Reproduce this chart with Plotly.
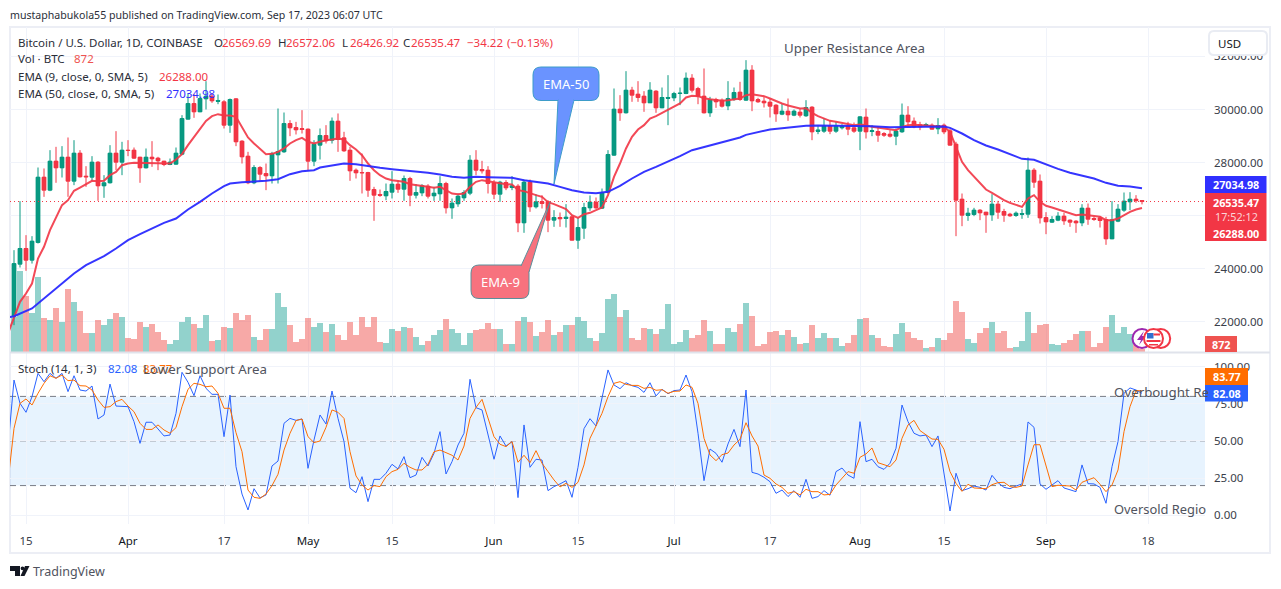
import pandas as pd
import plotly.graph_objects as go

W, H = 1281, 589
FONT = "Noto Sans"

# daily BTC/USD candles, first bar 2023-03-13
first_bar = "2023-03-13"
bar_open = [
    22220,24177,24767,24327,24993,27452,26963,28055,27804,28205,
    27302,28356,27490,27452,28017,27126,27240,28356,28017,28469,
    28469,28205,27804,28205,28168,28055,27929,27942,28318,29636,
    30226,29912,30402,30502,30314,30289,29410,30402,28808,28243,
    27240,27816,27590,27503,28293,28406,29473,29322,29272,29260,
    28055,28657,29021,28845,29561,28933,28469,27716,27628,27628,
    26988,26800,26750,26888,27189,27000,27402,26775,26862,27114,
    26750,26825,27214,26298,26449,26674,26850,28092,27741,27716,
    27240,26812,27252,27063,27114,25733,27264,26335,26524,26524,
    25834,25934,25896,25959,25080,25532,26298,26512,26285,26875,
    28281,30013,29875,30728,30577,30502,30251,30690,30063,30427,
    30439,30602,30602,31180,30790,30502,29875,30376,30351,30138,
    30389,30653,30351,31481,30364,30314,30276,30163,29824,29937,
    29787,29900,29762,30088,29184,29184,29373,29184,29310,29373,
    29310,29184,29711,29172,29172,29084,29071,28996,29159,29787,
    29561,29423,29385,29410,29272,29410,29197,28695,26624,26022,
    26047,26210,26135,26034,26436,26160,26059,26009,26059,26059,
    27716,27302,25934,25758,25834,25984,25834,25796,25733,26285,
    25896,25921,25859,25130,25796,26210,26524,26624,26569.69]
bar_high = [
    24704,26549,25269,25231,27816,27780,28469,28594,28620,28946,
    28845,28469,27866,28243,28055,27528,28657,29184,28783,28845,
    28569,28218,28532,28808,28218,28067,28155,28569,29787,30602,
    30577,30602,31067,30602,30565,30351,30414,30427,28845,28406,
    27904,27866,27967,28406,30038,29887,29598,29535,29975,29285,
    28845,29285,29410,29699,29850,29160,28594,27779,28343,27653,
    27088,26988,27214,27678,27340,27515,27465,27189,27189,27189,
    27088,27490,27277,26650,26837,26963,28281,28469,28067,27866,
    27340,27314,27340,27490,27189,27365,27365,26812,26775,26586,
    26210,26122,26436,26022,25934,26486,26762,26687,27025,28469,
    30791,30540,31443,30853,31067,30690,31029,30728,30828,31293,
    30665,30828,31393,31330,30853,31544,30477,30439,30414,31067,
    30828,31042,31857,31669,30439,30477,30414,30200,30226,30414,
    30000,30038,30351,30125,29373,29674,29598,29536,29448,29536,
    29510,29749,30038,29410,29373,29147,29222,29285,30226,30125,
    29699,29536,29498,29473,29674,29473,29272,28783,26837,26298,
    26298,26248,26147,26812,26561,26260,26110,26160,26248,28193,
    27791,27553,26135,25984,26135,26110,25859,25834,26436,26461,
    25959,25984,25959,26549,26436,26875,26888,26775,26572.06]
bar_low = [
    21880,24050,23926,24200,24955,26712,26925,27240,27440,26712,
    27151,27440,27088,27314,26561,26674,27214,27716,27528,28243,
    28143,27240,27780,27841,27716,27866,27904,27917,28281,29623,
    29686,29900,30000,30251,30200,29285,29122,28620,27967,27189,
    27189,27314,26963,27214,27214,28369,28996,29059,29096,27691,
    27866,28118,28720,28720,28406,28406,27314,27402,26838,26712,
    25808,26712,26586,26650,26862,26561,26360,26650,26737,26650,
    26561,26561,26084,25884,26336,26561,26775,27528,27590,26838,
    26624,26524,26963,26963,25382,25357,26147,26273,26273,25382,
    25582,25582,25558,25070,24754,25130,26185,26260,26260,26838,
    28256,29573,29850,30289,30289,29912,30251,29875,30050,29410,
    30314,30163,30577,30640,30200,29850,29724,30063,30075,29975,
    30326,30326,30326,29937,30251,30075,29699,29536,29787,29573,
    29749,29699,29724,28845,29071,29122,29071,29122,29247,29034,
    29122,28469,28908,28996,28783,28971,28946,28657,29122,29322,
    29297,29222,29347,29247,29071,29071,28645,25231,25607,25808,
    25984,25834,25357,25808,25884,25771,25959,25959,25884,25921,
    27051,25708,25306,25733,25796,25658,25582,25357,25607,25658,
    25808,25557,24905,25118,25758,26147,26210,26486,26426.92]
bar_close = [
    24200,24767,24327,25043,27452,26963,28055,27804,28205,27302,
    28356,27465,27465,28017,27126,27240,28356,28017,28469,28456,
    28168,27804,28205,28143,28067,27929,28017,28356,29661,30226,
    29912,30414,30502,30326,30339,29410,30376,28783,28218,27240,
    27816,27565,27503,28343,28419,29473,29310,29235,29247,28055,
    28695,29021,28820,29561,28870,28444,27691,27616,27616,26963,
    26775,26775,26913,27189,27000,27402,26775,26875,27126,26737,
    26850,27214,26298,26474,26737,26875,28092,27716,27691,27214,
    26812,27264,27050,27126,25733,27264,26335,26524,26461,25834,
    25934,25884,25947,25080,25557,26310,26512,26298,26875,28306,
    30013,29875,30728,30540,30452,30251,30728,30063,30452,30452,
    30602,30615,31180,30728,30502,29875,30376,30289,30125,30414,
    30640,30376,31481,30326,30289,30251,30125,29837,29937,29800,
    29937,29787,30075,29159,29222,29373,29184,29373,29373,29260,
    29184,29724,29159,29197,29034,29034,28996,29184,29787,29536,
    29347,29347,29435,29260,29398,29159,28657,26586,26022,26097,
    26210,26110,26034,26436,26135,26022,25997,26097,26084,27716,
    27264,25921,25771,25859,25984,25808,25758,25733,26285,25871,
    25859,25821,25130,25846,26248,26549,26624,26569,26535.47]
volume = [
    10600,24400,16800,11700,22500,10200,9600,13200,9000,18900,
    15000,12300,5700,5700,9600,8100,9900,11700,10500,4200,
    3900,9000,7500,8400,6000,3600,2400,3600,9000,10500,
    8400,7200,11100,3300,3600,7500,7200,11700,9600,11100,
    4500,3600,6900,6900,17700,13500,8100,3000,3900,10200,
    7500,8700,6000,8400,5100,3600,9000,5100,10500,7500,
    10500,3000,2700,6900,6300,7500,7200,4500,2100,3300,
    5100,6600,9900,6900,5700,2100,5700,6600,6900,8700,
    6900,6900,2400,2400,9300,10500,9000,4800,6000,9600,
    5100,6000,8100,8100,10500,9300,4200,3300,5700,15900,
    17400,10500,12600,4200,3600,7200,6900,5400,6900,14400,
    2400,3000,6600,4200,5100,9600,6300,2400,2400,7200,
    6000,8400,14700,10800,1800,2400,6000,6300,5100,6600,
    4500,2400,2700,8100,4200,5700,4200,4200,1800,2700,
    5100,9900,10200,5100,4200,1800,1500,5400,8700,6000,
    4200,3600,1200,1500,4200,3600,5700,15300,12000,3900,
    2700,5700,7200,9000,5700,6300,1200,1500,3300,12000,
    5700,8100,8400,2400,2100,2700,3600,5400,6300,6300,
    1500,2700,7500,11100,5700,7500,5400,3000,872]

# indicators start one day before the first visible bar
first_line = "2023-03-12"
ema9 = [
    21570,22194,22759,23072,23449,24390,24830,25457,25959,26398,26586,
    26938,27063,27189,27314,27302,27314,27528,27653,27904,27967,
    27992,27992,27967,27967,27992,27967,27967,28118,28318,28657,
    28971,29285,29573,29749,29824,29774,29774,29724,29347,28946,
    28720,28519,28318,28331,28406,28532,28720,28845,28933,28783,
    28720,28783,28845,28870,28908,28870,28657,28494,28281,27967,
    27716,27528,27402,27340,27302,27277,27189,27164,27139,27088,
    27051,27088,26963,26837,26812,26837,27088,27277,27340,27302,
    27239,27214,27189,27176,26963,26925,26837,26775,26712,26511,
    26436,26335,26248,26022,25921,26059,26110,26210,26310,26775,
    27465,27967,28532,28971,29247,29410,29661,29749,29875,30000,
    30125,30226,30452,30515,30502,30427,30389,30364,30326,30351,
    30389,30414,30540,30577,30540,30502,30414,30314,30226,30151,
    30088,30038,30050,29875,29749,29661,29573,29536,29485,29448,
    29410,29435,29410,29347,29310,29272,29235,29222,29347,29410,
    29423,29410,29410,29385,29373,29347,29159,28594,28030,27716,
    27465,27214,26988,26863,26712,26586,26486,26398,26335,26649,
    26775,26524,26373,26310,26235,26172,26097,26022,26047,26022,
    25984,25959,25834,25834,25896,26022,26147,26235,26288.00]
# bars (days after first_bar) where the EMA 50 was read
ema50_bar = [
    -1,0,3,4,6,8,10,12,15,17,19,21,23,25,27,29,31,33,35,36,38,40,42,44,46,48,50,
    51,53,55,57,59,61,63,65,67,69,71,73,75,77,79,81,83,85,87,89,91,93,95,97,99,
    101,103,105,107,109,111,113,115,117,119,121,122,124,126,128,130,132,134,137,
    140,143,146,149,152,154,155,156,158,160,162,164,166,168,170,172,174,176,178,
    180,182,184,186,188]
ema50 = [
    22170,22219,22508,22696,23072,23474,23826,24139,24478,24767,25080,25306,25520,25733,25896,
    26235,26524,26837,27114,27214,27264,27277,27314,27377,27565,27678,27716,
    27816,27904,27967,27942,27866,27804,27754,27716,27678,27616,27553,27465,27427,27465,
    27452,27440,27427,27340,27277,27214,27088,26963,26875,26850,26900,
    27126,27402,27653,27841,28030,28243,28469,28594,28720,28845,28946,29046,29159,29247,
    29297,29347,29385,29398,29398,29385,29373,29335,29347,29360,29373,29360,29310,
    29096,28845,28645,28494,28318,28143,28105,27929,27766,27616,27503,
    27402,27239,27126,27101,27034.98]
stoch_k = [
    46.0,91.0,75.3,69.3,79.8,95.5,89.9,95.5,92.2,95.5,83.2,
    93.9,84.3,83.6,87.0,64.8,67.5,88.3,73.5,73.5,73.1,
    63.0,48.4,62.6,62.6,58.1,53.4,54.0,68.6,96.2,89.5,
    80.5,93.9,85.4,81.4,81.4,52.9,80.9,32.7,14.3,3.6,
    17.9,11.7,13.7,33.2,36.5,61.9,65.2,63.9,64.8,31.6,
    50.7,67.5,61.4,83.6,65.2,49.6,18.2,15.2,26.0,9.2,
    24.2,24.2,28.3,34.3,31.2,39.5,25.3,27.1,39.0,33.2,
    41.7,56.3,27.8,36.1,47.3,55.2,91.5,72.4,70.9,54.0,
    37.7,53.4,46.6,49.6,11.9,60.8,32.3,37.7,37.2,16.6,
    19.3,21.1,23.3,12.1,32.3,58.3,65.0,60.1,79.8,97.8,
    87.7,85.2,89.2,87.2,86.1,82.7,89.2,80.3,84.8,81.8,
    83.9,84.3,94.4,83.2,55.2,23.3,44.6,41.7,35.7,48.0,
    57.8,46.2,84.3,28.9,27.8,25.6,22.6,14.8,17.0,12.6,
    16.6,12.1,24.2,11.4,12.6,16.6,13.5,29.4,31.8,27.1,
    24.9,63.0,36.1,37.7,32.7,30.9,35.0,45.1,74.2,63.0,
    55.2,53.4,54.0,46.2,53.4,27.1,2.9,28.3,16.6,17.9,
    19.7,18.8,17.0,26.9,22.0,18.8,17.9,19.7,21.1,62.8,
    59.2,21.1,17.5,20.4,23.3,18.4,17.0,15.9,33.9,21.3,
    21.1,18.8,8.1,32.7,49.6,82.1,85.7,84.3,82.08]
stoch_d = [
    22.7,58.5,75.3,78.3,74.2,82.1,88.8,93.9,92.2,94.4,90.6,
    91.0,87.2,87.0,84.3,77.6,72.6,73.1,76.5,78.0,73.5,
    69.7,61.9,57.8,57.8,60.8,57.4,55.2,59.0,73.1,84.8,
    88.8,88.1,86.5,87.0,82.1,72.0,72.0,55.6,42.8,17.0,
    12.1,11.4,14.3,20.0,27.6,43.9,55.2,63.7,64.8,52.9,
    48.9,50.0,59.2,70.9,69.3,65.2,42.8,26.5,20.4,17.0,
    20.0,19.3,26.0,29.4,30.9,35.0,32.3,30.5,30.5,34.3,
    42.8,43.9,42.2,40.4,37.2,46.6,65.2,72.6,78.0,65.2,
    52.9,47.8,46.2,49.6,35.7,40.4,35.4,43.5,35.0,29.4,
    23.8,19.1,21.5,18.8,22.2,33.9,51.8,60.1,68.6,79.8,
    88.8,89.9,88.1,87.4,87.4,85.4,86.1,84.1,84.5,82.1,
    83.4,83.6,87.7,86.1,75.3,51.8,40.6,36.8,40.8,41.9,
    47.3,51.1,62.3,53.4,46.6,27.1,24.9,21.1,18.8,14.8,
    15.9,13.7,17.5,15.9,15.9,13.7,14.1,20.4,24.9,29.4,
    28.3,39.0,41.3,45.3,35.4,33.9,32.7,37.2,51.8,60.8,
    63.9,57.0,54.0,51.3,51.1,44.4,29.4,21.5,16.1,20.9,
    18.4,18.4,17.9,20.6,22.0,22.2,19.3,18.8,19.7,33.9,
    47.5,47.5,32.7,19.3,20.2,20.2,19.7,17.0,22.2,23.8,
    25.3,20.9,15.9,20.4,30.5,56.3,73.1,83.9,83.77]

# axis ticks
date_ticks = ["2023-03-15","2023-04-01","2023-04-17","2023-05-01","2023-05-15","2023-06-01",
              "2023-06-15","2023-07-01","2023-07-17","2023-08-01","2023-08-15","2023-09-01","2023-09-18"]
date_labels = ["15","Apr","17","May","15","Jun","15","Jul","17","Aug","15","Sep","18"]
price_ticks = [22000,24000,26000,28000,30000,32000]
stoch_ticks = [0,25,50,75,100]

bars = pd.date_range(first_bar, periods=len(bar_close))
line_days = pd.date_range(first_line, periods=len(ema9))
ema50_days = pd.Timestamp(first_bar) + pd.to_timedelta(ema50_bar, unit="D")
vol_colors = ["rgba(38,166,154,0.5)" if c >= o else "rgba(239,83,80,0.5)"
              for o, c in zip(bar_open, bar_close)]
body_colors = ["#089981" if c >= o else "#F23645" for o, c in zip(bar_open, bar_close)]
body_sizes = [c - o for o, c in zip(bar_open, bar_close)]

fig = go.Figure()
fig.add_trace(go.Bar(x=bars, y=volume, marker_color=vol_colors, marker_line_width=0,
                     width=0.86 * 86400000, xaxis="x", yaxis="y"))
# candlestick bodies top out near 4px wide, so wider bodies go in as bars behind the wicks
fig.add_trace(go.Bar(x=bars, y=body_sizes, base=bar_open, marker_color=body_colors, marker_line_width=0,
                     width=0.82 * 86400000, xaxis="x", yaxis="y2"))
fig.add_trace(go.Candlestick(x=bars, open=bar_open, high=bar_high, low=bar_low, close=bar_close,
                             xaxis="x", yaxis="y2", whiskerwidth=0,
                             increasing=dict(line=dict(color="#089981", width=1), fillcolor="#089981"),
                             decreasing=dict(line=dict(color="#F23645", width=1), fillcolor="#F23645")))
fig.add_trace(go.Scatter(x=line_days, y=ema9, mode="lines", line=dict(color="#F23645", width=2),
                         opacity=0.9, xaxis="x", yaxis="y2"))
fig.add_trace(go.Scatter(x=ema50_days, y=ema50, mode="lines", line=dict(color="#2B2BFF", width=2),
                         opacity=0.95, xaxis="x", yaxis="y2"))
fig.add_trace(go.Scatter(x=line_days, y=stoch_k, mode="lines", line=dict(color="#2962FF", width=1),
                         xaxis="x", yaxis="y3"))
fig.add_trace(go.Scatter(x=line_days, y=stoch_d, mode="lines", line=dict(color="#FF6D00", width=1),
                         xaxis="x", yaxis="y3"))


def fx(x):
    return x / W


def fy(y):
    return 1 - y / H


def rrect(x0, y0, x1, y1, r):
    return (f"M{fx(x0 + r)},{fy(y0)} L{fx(x1 - r)},{fy(y0)} Q{fx(x1)},{fy(y0)} {fx(x1)},{fy(y0 + r)} "
            f"L{fx(x1)},{fy(y1 - r)} Q{fx(x1)},{fy(y1)} {fx(x1 - r)},{fy(y1)} "
            f"L{fx(x0 + r)},{fy(y1)} Q{fx(x0)},{fy(y1)} {fx(x0)},{fy(y1 - r)} "
            f"L{fx(x0)},{fy(y0 + r)} Q{fx(x0)},{fy(y0)} {fx(x0 + r)},{fy(y0)} Z")


def poly(pts):
    return "M" + " L".join(f"{fx(x)},{fy(y)}" for x, y in pts) + " Z"


shapes = []
annots = []


def path(d, fill, line="rgba(0,0,0,0)", lw=1, layer="above"):
    shapes.append(dict(type="path", xref="paper", yref="paper", path=d, fillcolor=fill,
                       line=dict(color=line, width=lw), layer=layer))


def box(x0, y0, x1, y1, fill, line="rgba(0,0,0,0)", lw=0, layer="above"):
    shapes.append(dict(type="rect", xref="paper", yref="paper", x0=fx(x0), x1=fx(x1), y0=fy(y0), y1=fy(y1),
                       fillcolor=fill, line=dict(color=line, width=lw), layer=layer))


def circle(cx, cy, r, fill, line, lw=2):
    shapes.append(dict(type="circle", xref="paper", yref="paper", x0=fx(cx - r), x1=fx(cx + r),
                       y0=fy(cy - r), y1=fy(cy + r), fillcolor=fill, line=dict(color=line, width=lw),
                       layer="above"))


def text(x, y, s, color="#50535E", size=11.5, anchor="left"):
    annots.append(dict(xref="paper", yref="paper", x=fx(x), y=fy(y), text=s, showarrow=False,
                       xanchor=anchor, yanchor="middle", borderpad=0, borderwidth=0,
                       font=dict(family=FONT, size=size, color=color)))


# frame and pane separator
box(10, 27, 1270, 553, "rgba(0,0,0,0)", "#ECEEF5", 2, layer="below")
shapes.append(dict(type="line", xref="paper", yref="paper", x0=fx(10), x1=fx(1270), y0=fy(352.5), y1=fy(352.5),
                   line=dict(color="#E0E3EB", width=2), layer="above"))

# last price line and stochastic band
shapes.append(dict(type="line", xref="x domain", yref="y2", x0=0, x1=1, y0=bar_close[-1], y1=bar_close[-1],
                   line=dict(color="#F23645", width=1, dash="1px,3px"), layer="above"))
shapes.append(dict(type="rect", xref="x domain", yref="y3", x0=0, x1=1, y0=20, y1=80,
                   fillcolor="rgba(33,150,243,0.11)", line=dict(width=0), layer="below"))
for level, dash_color in [(80, "#787B86"), (50, "#9A9DA6"), (20, "#787B86")]:
    shapes.append(dict(type="line", xref="x domain", yref="y3", x0=0, x1=1, y0=level, y1=level,
                       line=dict(color=dash_color, width=1, dash="6px,4px"), layer="below"))

# callouts
path(rrect(533, 67, 599, 100.5, 8), "#6A93FF", "#3D9CC9", 1)
path(poly([(558, 100), (574, 100), (554, 184)]), "#6A93FF", "#3D9CC9", 1)
path(rrect(558.5, 97, 573.5, 102, 0), "#6A93FF")
path(rrect(471, 265, 529, 298.5, 8), "#F7727E", "#5B8F9A", 1)
path(poly([(521, 266), (529, 272), (550, 202)]), "#F7727E", "#5B8F9A", 1)
path(rrect(520, 266, 528.5, 272, 0), "#F7727E")
text(566, 83.5, "EMA-50", "#FFFFFF", 13, "center")
text(500, 282, "EMA-9", "#FFFFFF", 13, "center")

# axis tags
path(rrect(1209, 31, 1267, 55, 5), "#FFFFFF", "#E9ECF3", 2)
text(1218, 43.5, "USD", "#131722", 11.5)
box(1205, 176, 1266.5, 193, "#3030FF")
text(1236, 185, "<b>27034.98</b>", "#FFFFFF", 10.8, "center")
box(1205, 193, 1266.5, 241, "#F23645")
text(1236, 202, "<b>26535.47</b>", "#FFFFFF", 10.8, "center")
text(1236, 216, "17:52:12", "#FBD5D8", 10.8, "center")
text(1236, 233, "<b>26288.00</b>", "#FFFFFF", 10.8, "center")
box(1205, 336, 1237, 352, "#EF5350")
text(1221, 344.5, "<b>872</b>", "#FFFFFF", 10.8, "center")
box(1205, 368, 1248, 385, "#FF6D00")
text(1226.5, 376.5, "<b>83.77</b>", "#FFFFFF", 10.8, "center")
box(1205, 385, 1248, 401.5, "#2962FF")
text(1226.5, 393.5, "<b>82.08</b>", "#FFFFFF", 10.8, "center")

# event markers at the bottom of the price pane
circle(1142, 338.5, 9.5, "#FFFFFF", "#9C27B0")
path(poly([(1144, 331), (1137, 340), (1141, 340), (1139, 345), (1146, 336), (1142, 336)]), "#9C27B0")
circle(1160.7, 338.5, 9.5, "#FFFFFF", "#F23645")
circle(1153.5, 338.5, 9.5, "#FFFFFF", "#F23645")
box(1147, 333, 1153.5, 338.5, "#2F6FD0")
box(1153.5, 333.5, 1160, 335.5, "#F23645")
box(1146.5, 340, 1160.5, 342, "#F23645")
box(1149, 344, 1158, 345.5, "#F23645")

# TradingView logo
path(poly([(10, 566), (20, 566), (20, 576), (15, 576), (15, 571), (10, 571)]), "#131722")
circle(22.5, 568.3, 1.9, "#131722", "#131722", 0)
path(poly([(25, 566), (29.5, 566), (24.5, 576), (20.5, 576)]), "#131722")

# header and legend
text(10, 15, "mustaphabukola55 published on TradingView.com, Sep 17, 2023 06:07 UTC", "#2A2E39", 10.6)
text(18, 42, "Bitcoin / U.S. Dollar, 1D, COINBASE", "#2A2E39")
red = "#F23645"
for x, lab, val in [(214, "O", "26569.69"), (278, "H", "26572.06"), (341.5, "L", "26426.92"), (403, "C", "26535.47")]:
    text(x, 42, lab, "#2A2E39")
    text(x + 8, 42, val, red)
text(466.5, 42, "−34.22", red)
text(507, 42, "(−0.13%)", red)
text(18, 59, "Vol · BTC", "#2A2E39")
text(74, 59, "872", "#EF5350")
text(18, 76, "EMA (9, close, 0, SMA, 5)", "#2A2E39")
text(159, 76, "26288.00", red)
text(18, 93, "EMA (50, close, 0, SMA, 5)", "#2A2E39")
text(166, 93, "27034.98", "#3030FF")
text(18, 368, "Stoch (14, 1, 3)", "#2A2E39")
text(108, 368, "82.08", "#2962FF")
text(143, 368, "83.77", "#FF6D00")

# chart notes
text(784, 48, "Upper Resistance Area", "#50535E", 13.3)
text(143, 368.5, "Lower Support Area", "#50535E", 13.3)
text(1114, 392, "Overbought Re", "#50535E", 13.3)
text(1114, 509, "Oversold Regio", "#50535E", 12.9)
text(33, 571.5, "TradingView", "#50535E", 12.5)

grid = "#F0F3FA"
tick_text = [f'<span style="color:#131722">{t}</span>' if t.isalpha() else t for t in date_labels]

fig.update_layout(
    width=W, height=H, margin=dict(l=0, r=0, t=0, b=0),
    paper_bgcolor="#FFFFFF", plot_bgcolor="#FFFFFF",
    showlegend=False, boxgap=0.1, bargap=0, barmode="overlay", hovermode=False,
    font=dict(family=FONT, size=11.5, color="#3A3E4A"),
    shapes=shapes, annotations=annots,
    xaxis=dict(domain=[fx(10), fx(1205)], type="date", anchor="y3",
               range=["2023-03-12 08:00", "2023-09-27 12:00"],
               tickmode="array", tickvals=date_ticks, ticktext=tick_text,
               showgrid=True, gridcolor=grid, gridwidth=1, zeroline=False, showline=False,
               ticks="", ticklabelstandoff=8, rangeslider=dict(visible=False)),
    yaxis=dict(domain=[fy(352), fy(27)], range=[0, 97500], visible=False, fixedrange=True, anchor="x"),
    yaxis2=dict(domain=[fy(352), fy(27)], overlaying="y", side="right", anchor="x",
                range=[20870, 33106], tickmode="array", tickvals=price_ticks,
                ticktext=[f"{v:.2f}" for v in price_ticks],
                showgrid=True, gridcolor=grid, zeroline=False, showline=False,
                ticks="", ticklabelstandoff=8),
    yaxis3=dict(domain=[fy(524), fy(353)], side="right", anchor="x",
                range=[-5.85, 109.2], tickmode="array", tickvals=stoch_ticks,
                ticktext=[f"{v:.2f}" for v in stoch_ticks],
                showgrid=True, gridcolor=grid, zeroline=False, showline=False,
                ticks="", ticklabelstandoff=8),
)

fig.write_html("out.html", config={"displayModeBar": False}, post_script="document.body.style.margin='0';")
